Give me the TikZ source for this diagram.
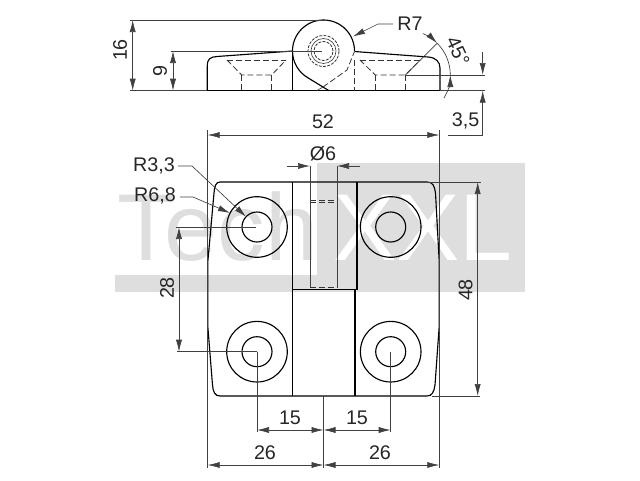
\documentclass[tikz,border=0pt]{standalone}
\usepackage{fontspec}
\setmainfont{Liberation Sans}
\usetikzlibrary{arrows.meta}

\tikzset{
  body/.style={line width=0.85pt, black},
  hidden/.style={line width=0.6pt, black!80, dash pattern=on 4.5pt off 2.2pt},
  thinline/.style={line width=0.5pt, black!75},
  dimline/.style={thinline, {Latex[length=9pt,width=4.6pt]}-{Latex[length=9pt,width=4.6pt]}},
  dimend/.style={thinline, -{Latex[length=9pt,width=4.6pt]}},
  dimtext/.style={font=\fontsize{14.8}{16}\selectfont, inner sep=0pt, text=black!85},
  wmtext/.style={font=\fontsize{71.25}{80}\selectfont, inner sep=0pt, anchor=base west}
}

\begin{document}
\begin{tikzpicture}[x=0.75pt, y=0.75pt]
  \useasboundingbox (0,0) rectangle (640,480);

  % watermark
  \fill[black!13] (115,188) rectangle (525,205);
  \fill[black!13] (317,188) rectangle (525,317);
  \node[wmtext, text=black!13] (wmtech) at (117,220) {Tech};
  \node[wmtext, text=white] (wmxxl) at (333,220) {XXL};

  % side view
  \coordinate (pin) at (323.5,429);
  \coordinate (sink) at (405.3,405);
  \draw[body] (207.3,389.3) -- (207.3,414) .. controls (207.3,421) and (210,423) .. (217,423.5) -- (292.7,429);
  \draw[body] (354.3,428.5) -- (428,423) .. controls (436,422.5) and (440,418) .. (440,412) -- (440,389.3);
  \draw[body] (207.3,389.3) -- (440,389.3);
  \draw[body] (292.7,429) -- (292.7,389.3);
  \draw[body] (pin) ++(0:31) arc[start angle=0, end angle=240, radius=31] -- (329,389.3);
  \draw[thinline] (316.7,389.3) -- (323,393);
  \draw[hidden] (323,393) -- (347,410) -- (354.3,428);
  \draw[thinline] (pin) circle[radius=12.5];
  \foreach \r in {9.5, 15.5} {
    \draw[hidden, dash pattern=on 2.2pt off 1pt] (pin) circle[radius=\r];
  }

  % countersunk holes
  \foreach \cx/\tl/\tr in {256.7/227/286, 390.3/360/420} {
    \draw[hidden] (\tl,420) -- (\tr,420);
    \draw[hidden] (\tl,420) -- (\cx-15,405) -- (\cx+15,405) -- (\tr,420);
    \draw[hidden] (\cx-15,405) -- (\cx-15,389.3);
    \draw[hidden] (\cx+15,405) -- (\cx+15,389.3);
  }
  \draw[hidden] (354.3,420) -- (354.3,389.3);

  % plan view
  \draw[body] (220,298) -- (427,298) .. controls (433,298) and (434.5,294) .. (435.5,287)
    -- (439.3,217) -- (439.3,155) -- (435,95) .. controls (434,88) and (432,84) .. (427,84)
    -- (220,84) .. controls (215,84) and (213,88) .. (212.5,95) -- (207.7,155) -- (207.7,217)
    -- (214,287) .. controls (214.5,294) and (216,298) .. (220,298);
  \draw[body] (292.7,298) -- (292.7,84);
  \draw[body] (355,190.5) -- (355,84);
  \draw[body] (292.7,190.5) -- (357,190.5) -- (357,298);
  \foreach \y in {277.5, 280} {
    \draw[hidden] (310,\y) -- (337,\y);
  }
  \draw[hidden] (310,193) -- (337,193);

  % holes
  \foreach \cx/\cy in {257/253, 390.7/253, 257/128.3, 390.7/128.3} {
    \draw[body] (\cx,\cy) circle[radius=30.3];
    \draw[body] (\cx,\cy) circle[radius=15];
  }

  % extension lines
  \draw[thinline] (130,460) -- (326,460);
  \draw[thinline] (130,389.3) -- (207.3,389.3);
  \draw[thinline] (171,429) -- (322,429);
  \draw[thinline] (207.7,350) -- (207.7,12);
  \draw[thinline] (439.3,350) -- (439.3,12);
  \draw[thinline] (323.5,84) -- (323.5,12);
  \draw[thinline] (257,128.3) -- (257,48);
  \draw[thinline] (390.7,128.3) -- (390.7,48);
  \draw[thinline] (310,314) -- (310,193);
  \draw[thinline] (337,314) -- (337,193);
  \draw[thinline] (427,298) -- (481,298);
  \draw[thinline] (432,84) -- (480,84);
  \draw[thinline] (176,253) -- (256,253);
  \draw[thinline] (177,128.3) -- (257,128.3);
  \draw[thinline] (sink) -- (485,405);
  \draw[thinline] (440,389.3) -- (485,389.3);
  \draw[thinline] (sink) -- ++(45:45);

  % dimensions
  \draw[dimline] (132.7,460) -- (132.7,389.3);
  \draw[dimline] (173,429) -- (173,389.3);
  \draw[dimline] (207.7,345) -- (439.3,345);
  \draw[dimline] (477.7,298) -- (477.7,84);
  \draw[dimline] (179,253) -- (179,128.3);
  \draw[dimline] (257,50) -- (323.5,50);
  \draw[dimline] (323.5,50) -- (390.7,50);
  \draw[dimline] (207.7,15) -- (323.5,15);
  \draw[dimline] (323.5,15) -- (439.3,15);
  \draw[dimend] (286.7,314) -- (310,314);
  \draw[dimend] (360,314) -- (337,314);
  \draw[dimend] (482.7,428) -- (482.7,405);
  \draw[dimend] (482.7,345) -- (482.7,389.3);
  \draw[thinline] (482.7,345) -- (448,345);

  % angle
  \draw[thinline] (sink) ++(45:45) arc[start angle=45, end angle=0, radius=45];
  \draw[dimend] (sink) ++(67:45) arc[start angle=67, end angle=45, radius=45];
  \draw[dimend] (sink) ++(-31:45) arc[start angle=-31, end angle=0, radius=45];

  % radius leaders
  \draw[dimend] (393,456) -- (378,456) -- (353,443.5);
  \draw[dimend] (178,314) -- (192,314) -- (246,263.3);
  \draw[dimend] (180,283) -- (193,283) -- (230,267);

  % labels
  \node[dimtext, rotate=90] (lab16) at (120,430) {16};
  \node[dimtext, rotate=90] (lab9) at (160,409) {9};
  \node[dimtext] (lab52) at (323,358) {52};
  \node[dimtext, rotate=90] (lab48) at (465.7,190) {48};
  \node[dimtext, rotate=90] (lab28) at (167,192) {28};
  \node[dimtext] (labd6) at (323,326) {Ø6};
  \node[dimtext] (labr33) at (154,314) {R3,3};
  \node[dimtext] (labr68) at (155,284) {R6,8};
  \node[dimtext] (labr7) at (410,456) {R7};
  \node[dimtext, rotate=-65] (lab45) at (458,429) {45°};
  \node[dimtext] (lab35) at (465.7,359) {3,5};
  \node[dimtext] (lab15a) at (290,62) {15};
  \node[dimtext] (lab15b) at (357,62) {15};
  \node[dimtext] (lab26a) at (265,27) {26};
  \node[dimtext] (lab26b) at (380,27) {26};
\end{tikzpicture}
\end{document}
